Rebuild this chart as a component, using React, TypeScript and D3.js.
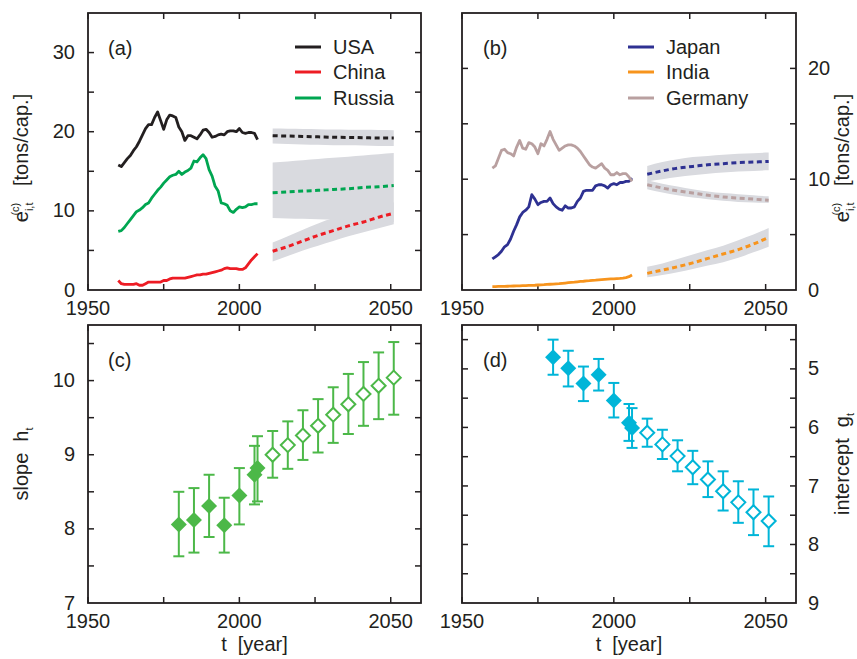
import React, { useEffect, useRef } from "react";
import * as d3 from "d3";

// historical emissions per capita, tons/cap., 1960..2006
const histYears = d3.range(1960, 2007);

const usa = [
  15.8, 15.6, 16.1, 16.6, 17.0, 17.6, 18.1, 18.8, 19.6, 20.4,
  20.9, 20.9, 21.8, 22.5, 21.4, 20.3, 21.5, 22.1, 22.0, 21.8,
  20.6, 20.0, 18.9, 19.5, 19.5, 19.3, 19.1, 19.6, 20.2, 20.3,
  19.9, 19.3, 19.4, 19.6, 19.7, 19.6, 20.0, 20.1, 20.1, 20.0,
  20.4, 19.9, 19.8, 19.9, 19.9, 19.8, 19.0,
];
const china = [
  1.2, 0.8, 0.7, 0.7, 0.7, 0.7, 0.8, 0.6, 0.6, 0.8,
  1.0, 1.0, 1.0, 1.0, 1.0, 1.2, 1.2, 1.4, 1.5, 1.5,
  1.5, 1.5, 1.5, 1.6, 1.7, 1.8, 1.9, 1.9, 2.0, 2.0,
  2.1, 2.2, 2.3, 2.4, 2.5, 2.7, 2.8, 2.7, 2.7, 2.7,
  2.6, 2.6, 2.8, 3.3, 3.8, 4.2, 4.6,
];
const russia = [
  7.4, 7.5, 7.9, 8.4, 8.9, 9.4, 9.9, 10.1, 10.4, 10.8,
  11.0, 11.6, 12.1, 12.6, 13.0, 13.5, 13.9, 14.3, 14.5, 14.6,
  15.0, 14.6, 14.9, 15.1, 15.4, 16.3, 16.2, 16.7, 17.1, 16.6,
  15.2, 14.4, 13.1, 12.5, 11.0, 10.9, 10.7, 10.0, 9.8, 10.2,
  10.5, 10.4, 10.5, 10.8, 10.8, 10.9, 10.9,
];
const japan = [
  2.8, 3.0, 3.2, 3.5, 3.9, 4.1, 4.6, 5.3, 5.9, 6.6,
  7.0, 7.2, 7.5, 8.6, 8.2, 7.7, 7.9, 8.0, 8.0, 8.3,
  7.8, 7.5, 7.3, 7.2, 7.6, 7.4, 7.4, 7.5, 8.0, 8.3,
  8.9, 9.0, 9.0, 9.0, 9.4, 9.5, 9.5, 9.4, 9.2, 9.5,
  9.6, 9.5, 9.7, 9.7, 9.8, 9.8, 10.1,
];
const india = [
  0.3, 0.3, 0.32, 0.33, 0.33, 0.34, 0.35, 0.36, 0.37, 0.38,
  0.39, 0.4, 0.41, 0.42, 0.43, 0.45, 0.47, 0.48, 0.5, 0.52,
  0.53, 0.55, 0.57, 0.6, 0.63, 0.66, 0.69, 0.71, 0.74, 0.77,
  0.79, 0.82, 0.84, 0.87, 0.89, 0.92, 0.94, 0.96, 0.98, 1.0,
  1.01, 1.03, 1.05, 1.08, 1.12, 1.2, 1.35,
];
const germany = [
  11.0, 11.2, 11.9, 12.6, 12.7, 12.4, 12.3, 12.1, 12.9, 13.5,
  12.8, 12.7, 13.3, 13.2, 12.9, 12.3, 13.2, 13.0, 13.6, 14.3,
  13.6, 13.1, 12.6, 12.8, 13.0, 13.1, 13.1, 13.0, 12.8, 12.5,
  12.1, 11.7, 11.3, 11.1, 11.0, 11.2, 11.4, 11.0, 10.8, 10.4,
  10.4, 10.6, 10.4, 10.5, 10.5, 10.2, 9.8,
];

// projections with uncertainty bands
const projYears = [2011, 2016, 2021, 2026, 2031, 2036, 2041, 2046, 2051];

const usaProj = [19.5, 19.45, 19.4, 19.35, 19.3, 19.28, 19.25, 19.2, 19.2];
const usaLow = [18.5, 18.45, 18.4, 18.35, 18.3, 18.28, 18.25, 18.2, 18.2];
const usaHigh = [20.4, 20.37, 20.34, 20.31, 20.28, 20.26, 20.24, 20.22, 20.2];

const chinaProj = [4.9, 5.5, 6.2, 6.9, 7.5, 8.1, 8.6, 9.2, 9.7];
const chinaLow = [3.6, 4.3, 5.0, 5.6, 6.2, 6.8, 7.3, 7.8, 8.3];
const chinaHigh = [6.0, 6.8, 7.6, 8.4, 9.1, 9.6, 10.1, 10.6, 11.1];

const russiaProj = [12.3, 12.4, 12.5, 12.6, 12.7, 12.8, 12.95, 13.05, 13.2];
const russiaLow = [9.1, 9.05, 9.0, 8.95, 8.9, 8.85, 8.8, 8.7, 8.6];
const russiaHigh = [16.1, 16.25, 16.4, 16.55, 16.7, 16.85, 17.0, 17.15, 17.3];

const japanProj = [10.45, 10.75, 11.0, 11.15, 11.3, 11.4, 11.5, 11.55, 11.6];
const japanLow = [9.8, 10.0, 10.2, 10.35, 10.5, 10.6, 10.7, 10.75, 10.8];
const japanHigh = [11.2, 11.55, 11.8, 12.0, 12.1, 12.2, 12.3, 12.35, 12.4];

const indiaProj = [1.5, 1.8, 2.1, 2.45, 2.85, 3.25, 3.65, 4.15, 4.75];
const indiaLow = [1.15, 1.35, 1.6, 1.9, 2.2, 2.5, 2.9, 3.4, 3.9];
const indiaHigh = [2.1, 2.4, 2.8, 3.2, 3.6, 4.0, 4.5, 5.0, 5.6];

const germanyProj = [9.5, 9.2, 8.95, 8.75, 8.55, 8.4, 8.3, 8.2, 8.1];
const germanyLow = [9.1, 8.8, 8.55, 8.35, 8.2, 8.05, 7.95, 7.9, 7.85];
const germanyHigh = [9.9, 9.6, 9.35, 9.1, 8.9, 8.75, 8.65, 8.55, 8.45];

// fitted scaling parameters (filled = fitted, open = projected)
const fitYears = [1980, 1985, 1990, 1995, 2000, 2005, 2006, 2011, 2016, 2021, 2026, 2031, 2036, 2041, 2046, 2051];
const slope = [8.06, 8.12, 8.31, 8.05, 8.45, 8.73, 8.82, 9.0, 9.13, 9.26, 9.39, 9.54, 9.68, 9.82, 9.93, 10.04];
const slopeLow = [7.63, 7.68, 7.89, 7.68, 8.06, 8.33, 8.37, 8.69, 8.81, 8.93, 9.03, 9.16, 9.28, 9.39, 9.48, 9.54];
const slopeHigh = [8.5, 8.55, 8.73, 8.42, 8.82, 9.12, 9.25, 9.32, 9.45, 9.6, 9.75, 9.91, 10.09, 10.25, 10.38, 10.52];
const intercept = [4.8, 4.99, 5.25, 5.1, 5.54, 5.92, 6.01, 6.09, 6.29, 6.49, 6.68, 6.89, 7.09, 7.28, 7.45, 7.6];
const interceptLow = [4.5, 4.69, 4.96, 4.83, 5.24, 5.6, 5.67, 5.85, 6.04, 6.22, 6.4, 6.58, 6.75, 6.92, 7.06, 7.18];
const interceptHigh = [5.1, 5.3, 5.55, 5.37, 5.83, 6.23, 6.35, 6.33, 6.54, 6.75, 6.97, 7.19, 7.42, 7.63, 7.84, 8.03];

const xTicks = [1950, 1975, 2000, 2025, 2050];
const xTickLabels = [1950, 2000, 2050];

const INK = "#231f20";
const BAND = "#d9dadf";
const FONT = "'Liberation Sans', Arial, Helvetica, sans-serif";

type Box = { left: number; right: number; top: number; bottom: number };
type Sel = d3.Selection<SVGGElement, unknown, null, undefined>;

function frame(
  g: Sel,
  box: Box,
  x: d3.ScaleLinear<number, number>,
  y: d3.ScaleLinear<number, number>,
  yTicks: number[],
  yTickLabels: number[],
  labelSide: "left" | "right"
) {
  g.append("rect")
    .attr("x", box.left)
    .attr("y", box.top)
    .attr("width", box.right - box.left)
    .attr("height", box.bottom - box.top)
    .attr("fill", "none")
    .attr("stroke", INK)
    .attr("stroke-width", 1.8);

  const tick = 6;
  xTicks.forEach((t) => {
    g.append("line").attr("x1", x(t)).attr("x2", x(t)).attr("y1", box.bottom).attr("y2", box.bottom - tick)
      .attr("stroke", INK).attr("stroke-width", 1.5);
    g.append("line").attr("x1", x(t)).attr("x2", x(t)).attr("y1", box.top).attr("y2", box.top + tick)
      .attr("stroke", INK).attr("stroke-width", 1.5);
  });
  yTicks.forEach((t) => {
    g.append("line").attr("x1", box.left).attr("x2", box.left + tick).attr("y1", y(t)).attr("y2", y(t))
      .attr("stroke", INK).attr("stroke-width", 1.5);
    g.append("line").attr("x1", box.right).attr("x2", box.right - tick).attr("y1", y(t)).attr("y2", y(t))
      .attr("stroke", INK).attr("stroke-width", 1.5);
  });

  g.selectAll(null)
    .data(xTickLabels)
    .enter()
    .append("text")
    .attr("x", (d) => x(d))
    .attr("y", box.bottom + 25)
    .attr("text-anchor", "middle")
    .attr("font-size", 20)
    .attr("fill", INK)
    .text((d) => d);

  g.selectAll(null)
    .data(yTickLabels)
    .enter()
    .append("text")
    .attr("x", labelSide === "left" ? box.left - 13 : box.right + 12)
    .attr("y", (d) => y(d))
    .attr("dy", "0.33em")
    .attr("text-anchor", labelSide === "left" ? "end" : "start")
    .attr("font-size", 20)
    .attr("fill", INK)
    .text((d) => d);
}

function emissionLabel(g: Sel, cx: number, cy: number) {
  const t = g.append("text")
    .attr("transform", `translate(${cx},${cy}) rotate(-90)`)
    .attr("text-anchor", "middle")
    .attr("font-size", 20)
    .attr("fill", INK)
    .style("white-space", "pre");
  t.append("tspan").text("e");
  t.append("tspan").attr("font-size", 11).attr("dy", 5).text("i,t");
  t.append("tspan").attr("font-size", 11).attr("dx", -13).attr("dy", -14).text("(c)");
  t.append("tspan").attr("dy", 9).text("   [tons/cap.]");
}

export default function App() {
  const ref = useRef<SVGSVGElement>(null);

  useEffect(() => {
    const svg = d3.select(ref.current);
    svg.selectAll("*").remove();
    const root = svg.append("g").attr("font-family", FONT) as Sel;

    const boxA: Box = { left: 88, right: 421, top: 13, bottom: 290 };
    const boxB: Box = { left: 462, right: 796, top: 13, bottom: 290 };
    const boxC: Box = { left: 88, right: 421, top: 325, bottom: 603 };
    const boxD: Box = { left: 462, right: 796, top: 325, bottom: 603 };

    const xL = d3.scaleLinear().domain([1950, 2060]).range([boxA.left, boxA.right]);
    const xR = d3.scaleLinear().domain([1950, 2060]).range([boxB.left, boxB.right]);
    const yA = d3.scaleLinear().domain([0, 35]).range([boxA.bottom, boxA.top]);
    const yB = d3.scaleLinear().domain([0, 25]).range([boxB.bottom, boxB.top]);
    const yC = d3.scaleLinear().domain([7, 10.75]).range([boxC.bottom, boxC.top]);
    const yD = d3.scaleLinear().domain([4.25, 9]).range([boxD.top, boxD.bottom]);

    // emission panels: bands, dashed projections, then history on top
    const emissionPanel = (
      g: Sel,
      x: d3.ScaleLinear<number, number>,
      y: d3.ScaleLinear<number, number>,
      series: { name: string; color: string; hist: number[]; proj: number[]; low: number[]; high: number[] }[],
      legendX: number
    ) => {
      series.forEach((s) => {
        const band = d3.area<number>()
          .x((_, i) => x(projYears[i]))
          .y0((_, i) => y(s.low[i]))
          .y1((_, i) => y(s.high[i]))
          .curve(d3.curveMonotoneX);
        g.append("path").attr("d", band(s.proj)).attr("fill", BAND);
      });
      series.forEach((s) => {
        const proj = d3.line<number>()
          .x((_, i) => x(projYears[i]))
          .y((d) => y(d))
          .curve(d3.curveMonotoneX);
        g.append("path").attr("d", proj(s.proj)).attr("fill", "none").attr("stroke", s.color)
          .attr("stroke-width", 3).attr("stroke-dasharray", "5,3.5");
      });
      series.forEach((s) => {
        const hist = d3.line<number>()
          .x((_, i) => x(histYears[i]))
          .y((d) => y(d));
        g.append("path").attr("d", hist(s.hist)).attr("fill", "none").attr("stroke", s.color)
          .attr("stroke-width", 2.8).attr("stroke-linejoin", "round");
      });
      const legendY = [47, 72, 98];
      series.forEach((s, i) => {
        g.append("line").attr("x1", legendX).attr("x2", legendX + 26).attr("y1", legendY[i]).attr("y2", legendY[i])
          .attr("stroke", s.color).attr("stroke-width", 3);
        g.append("text").attr("x", legendX + 38).attr("y", legendY[i]).attr("dy", "0.36em")
          .attr("font-size", 20).attr("fill", INK).text(s.name);
      });
    };

    const gA = root.append("g") as Sel;
    frame(gA, boxA, xL, yA, [5, 10, 15, 20, 25, 30], [0, 10, 20, 30], "left");
    emissionPanel(gA, xL, yA, [
      { name: "USA", color: "#231f20", hist: usa, proj: usaProj, low: usaLow, high: usaHigh },
      { name: "China", color: "#ed1c24", hist: china, proj: chinaProj, low: chinaLow, high: chinaHigh },
      { name: "Russia", color: "#00a651", hist: russia, proj: russiaProj, low: russiaLow, high: russiaHigh },
    ], 295);
    gA.append("text").attr("x", 108).attr("y", 55).attr("font-size", 20).attr("fill", INK).text("(a)");
    emissionLabel(gA, 28, 158);

    const gB = root.append("g") as Sel;
    frame(gB, boxB, xR, yB, [5, 10, 15, 20], [0, 10, 20], "right");
    emissionPanel(gB, xR, yB, [
      { name: "Japan", color: "#2e3192", hist: japan, proj: japanProj, low: japanLow, high: japanHigh },
      { name: "India", color: "#f7941d", hist: india, proj: indiaProj, low: indiaLow, high: indiaHigh },
      { name: "Germany", color: "#b9a0a0", hist: germany, proj: germanyProj, low: germanyLow, high: germanyHigh },
    ], 628);
    gB.append("text").attr("x", 483).attr("y", 55).attr("font-size", 20).attr("fill", INK).text("(b)");
    emissionLabel(gB, 849, 158);

    // parameter panels
    const diamond = (r: number) => `M0,${-r}L${r},0L0,${r}L${-r},0Z`;
    const paramPanel = (
      g: Sel,
      x: d3.ScaleLinear<number, number>,
      y: d3.ScaleLinear<number, number>,
      vals: number[],
      low: number[],
      high: number[],
      color: string
    ) => {
      fitYears.forEach((yr, i) => {
        const cx = x(yr);
        g.append("line").attr("x1", cx).attr("x2", cx).attr("y1", y(low[i])).attr("y2", y(high[i]))
          .attr("stroke", color).attr("stroke-width", 2);
        [low[i], high[i]].forEach((v) => {
          g.append("line").attr("x1", cx - 5.5).attr("x2", cx + 5.5).attr("y1", y(v)).attr("y2", y(v))
            .attr("stroke", color).attr("stroke-width", 2);
        });
      });
      fitYears.forEach((yr, i) => {
        const filled = yr <= 2006;
        g.append("path")
          .attr("transform", `translate(${x(yr)},${y(vals[i])})`)
          .attr("d", diamond(filled ? 8 : 7))
          .attr("fill", filled ? color : "#fff")
          .attr("stroke", color)
          .attr("stroke-width", filled ? 0 : 2);
      });
    };

    const gC = root.append("g") as Sel;
    frame(gC, boxC, xL, yC, [7.5, 8, 8.5, 9, 9.5, 10, 10.5], [7, 8, 9, 10], "left");
    paramPanel(gC, xL, yC, slope, slopeLow, slopeHigh, "#4cb848");
    gC.append("text").attr("x", 108).attr("y", 367).attr("font-size", 20).attr("fill", INK).text("(c)");
    const sl = gC.append("text")
      .attr("transform", `translate(28,${(boxC.top + boxC.bottom) / 2}) rotate(-90)`)
      .attr("text-anchor", "middle").attr("font-size", 20).attr("fill", INK).style("white-space", "pre");
    sl.append("tspan").text("slope  h");
    sl.append("tspan").attr("font-size", 11).attr("dy", 5).text("t");
    gC.append("text").attr("x", (boxC.left + boxC.right) / 2).attr("y", 651).attr("text-anchor", "middle")
      .attr("font-size", 20).attr("fill", INK).style("white-space", "pre").text("t  [year]");

    const gD = root.append("g") as Sel;
    frame(gD, boxD, xR, yD, [4.5, 5, 5.5, 6, 6.5, 7, 7.5, 8, 8.5], [5, 6, 7, 8, 9], "right");
    paramPanel(gD, xR, yD, intercept, interceptLow, interceptHigh, "#00b5d8");
    gD.append("text").attr("x", 483).attr("y", 367).attr("font-size", 20).attr("fill", INK).text("(d)");
    const il = gD.append("text")
      .attr("transform", `translate(849,${(boxD.top + boxD.bottom) / 2}) rotate(-90)`)
      .attr("text-anchor", "middle").attr("font-size", 20).attr("fill", INK).style("white-space", "pre");
    il.append("tspan").text("intercept  g");
    il.append("tspan").attr("font-size", 11).attr("dy", 5).text("t");
    gD.append("text").attr("x", (boxD.left + boxD.right) / 2).attr("y", 651).attr("text-anchor", "middle")
      .attr("font-size", 20).attr("fill", INK).style("white-space", "pre").text("t  [year]");
  });

  return (
    <svg
      ref={ref}
      width={857}
      height={659}
      style={{ position: "absolute", left: 0, top: 0, background: "#fff" }}
    />
  );
}
